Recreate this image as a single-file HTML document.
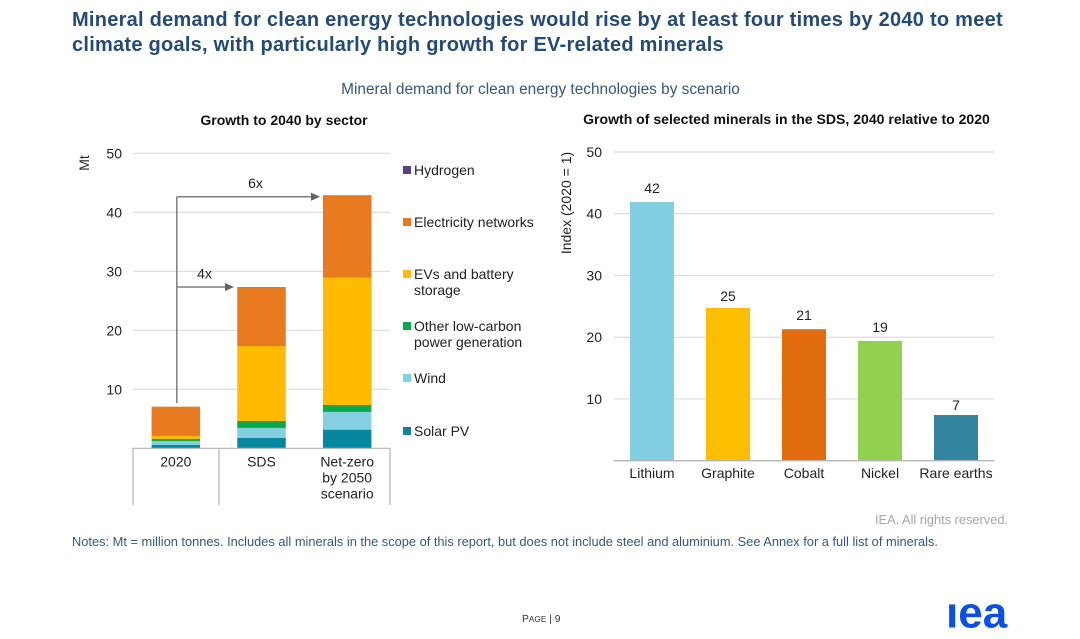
<!DOCTYPE html>
<html lang="en">
<head>
<meta charset="utf-8">
<title>Mineral demand for clean energy technologies</title>
<style>
html,body{margin:0;padding:0;background:#fff;width:1080px;height:639px;overflow:hidden}
svg{display:block;font-family:"Liberation Sans",sans-serif}
</style>
</head>
<body>
<svg id="page" width="1080" height="639" viewBox="0 0 1080 639" xmlns="http://www.w3.org/2000/svg">
  <g font-size="20" font-weight="bold" fill="#234a78" style="letter-spacing:.255px">
    <text x="72" y="26">Mineral demand for clean energy technologies would rise by at least four times by 2040 to meet</text>
    <text x="72" y="51">climate goals, with particularly high growth for EV-related minerals</text>
  </g>
  <text x="540.5" y="94" font-size="15.4" fill="#35587f" text-anchor="middle">Mineral demand for clean energy technologies by scenario</text>
  <text x="284" y="125" font-size="14" font-weight="bold" fill="#111" text-anchor="middle">Growth to 2040 by sector</text>
  <text x="786.5" y="124" font-size="14.05" font-weight="bold" fill="#111" text-anchor="middle">Growth of selected minerals in the SDS, 2040 relative to 2020</text>

  <g id="left-chart"></g>
  <g id="right-chart"></g>

  <text transform="translate(89,163) rotate(-90)" font-size="14" fill="#222" text-anchor="middle">Mt</text>
  <text transform="translate(571,203) rotate(-90)" font-size="14" fill="#222" text-anchor="middle">Index (2020 = 1)</text>

  <g font-size="14" fill="#222">
    <g><rect x="403" y="166" width="8" height="8" fill="#5b3f87"/><text x="414" y="175">Hydrogen</text></g>
    <g><rect x="403" y="218" width="8" height="8" fill="#e97a1f"/><text x="414" y="227">Electricity networks</text></g>
    <g><rect x="403" y="270" width="8" height="8" fill="#fdbb0c"/><text x="414" y="279">EVs and battery</text><text x="414" y="295">storage</text></g>
    <g><rect x="403" y="322" width="8" height="8" fill="#0aa84f"/><text x="414" y="331">Other low-carbon</text><text x="414" y="347">power generation</text></g>
    <g><rect x="403" y="374" width="8" height="8" fill="#84cfe0"/><text x="414" y="383">Wind</text></g>
    <g><rect x="403" y="427" width="8" height="8" fill="#12829b"/><text x="414" y="436">Solar PV</text></g>
  </g>

  <text x="1008" y="524" font-size="12.8" fill="#a6a6a6" text-anchor="end">IEA. All rights reserved.</text>
  <text x="72" y="546" font-size="12.84" fill="#35587f">Notes: Mt = million tonnes. Includes all minerals in the scope of this report, but does not include steel and aluminium. See Annex for a full list of minerals.</text>
  <text x="522" y="622" font-size="10.3" fill="#333">P<tspan font-size="8.3">AGE</tspan> | 9</text>
  <text x="946" y="627.5" font-size="44" font-weight="bold" fill="#0b50e6">ıea</text>
</svg>
<script>
var NS = 'http://www.w3.org/2000/svg';

// Left chart data (Mt)
var scenarios = ['2020', 'SDS', 'Net-zero by 2050 scenario'];
var solarPv = [0.56, 1.75, 3.16];
var wind = [0.68, 1.7, 3.0];
var otherLowCarbon = [0.34, 1.18, 1.18];
var evsBattery = [0.51, 12.71, 21.56];
var electricityNetworks = [4.97, 10.0, 14.0];
var hydrogen = [0, 0, 0];
var leftTicks = [10, 20, 30, 40, 50];
var multiples = ['6x', '4x'];

// Right chart data (index, 2020 = 1)
var minerals = ['Lithium', 'Graphite', 'Cobalt', 'Nickel', 'Rare earths'];
var mineralValues = [41.9, 24.75, 21.3, 19.4, 7.4];
var mineralLabels = ['42', '25', '21', '19', '7'];
var rightTicks = [10, 20, 30, 40, 50];

var sectorSeries = [solarPv, wind, otherLowCarbon, evsBattery, electricityNetworks, hydrogen];
var sectorColors = ['#06869f', '#84cfe0', '#0aa84f', '#febb00', '#e97a1f', '#5b3f87'];
var sectorKeys = ['solar-pv', 'wind', 'other-low-carbon', 'evs-battery', 'electricity-networks', 'hydrogen'];
var mineralColors = ['#82cfe2', '#febe00', '#e26d0e', '#92d050', '#33849f'];

function make(tag, attrs, parent, text) {
  var el = document.createElementNS(NS, tag);
  for (var k in attrs) el.setAttribute(k, attrs[k]);
  if (text !== undefined) el.textContent = text;
  parent.appendChild(el);
  return el;
}

// ---- left chart ----
var left = document.getElementById('left-chart');
var leftX0 = 133, leftX1 = 390, leftBase = 448.3, leftTop = 153.3, leftMax = 50;
function yLeft(v) { return leftBase - v / leftMax * (leftBase - leftTop); }
function xLeftBand(i) { return leftX0 + (leftX1 - leftX0) * (i + 0.5) / scenarios.length; }
var leftBarW = 48.5;

leftTicks.forEach(function (t) {
  var line = make('line', { x1: leftX0, x2: leftX1, y1: yLeft(t), y2: yLeft(t), stroke: '#dcdcdc', 'stroke-width': 1.2 }, left);
  
  
  var lab = make('text', { x: 122, y: yLeft(t) + 5, 'font-size': 14, fill: '#222', 'text-anchor': 'end' }, left, String(t));
  
  
});

scenarios.forEach(function (name, i) {
  var cum = 0;
  sectorSeries.forEach(function (series, s) {
    var v = series[i];
    var r = make('rect', { x: xLeftBand(i) - leftBarW / 2, y: yLeft(cum + v), width: leftBarW, height: yLeft(cum) - yLeft(cum + v), fill: sectorColors[s] }, left);
    
    
    cum += v;
  });
});

function totalAt(i) {
  return sectorSeries.reduce(function (a, s) { return a + s[i]; }, 0);
}

// category axis box
var axisPath = make('path', {
  d: 'M133 505V448.3H390V505M219 448.3V505',
  fill: 'none', stroke: '#b4b4b4', 'stroke-width': 1.2
}, left);



var catLines = [['2020'], ['SDS'], ['Net-zero', 'by 2050', 'scenario']];
scenarios.forEach(function (name, i) {
  var lab = make('text', { 'font-size': 14, fill: '#222', 'text-anchor': 'middle' }, left);
  
  
  catLines[i].forEach(function (ln, j) {
    make('tspan', { x: xLeftBand(i), y: 466.5 + j * 16 }, lab, ln);
  });
});

// growth arrows
var arrowX = 176.8, arrowBottom = 403;
var arrowYHigh = yLeft(totalAt(2)) + 1.5, arrowYLow = yLeft(totalAt(1));
var vArrow = make('line', { x1: arrowX, x2: arrowX, y1: arrowBottom, y2: arrowYHigh, stroke: '#7f7f7f', 'stroke-width': 1.5 }, left);


[[arrowYHigh, 320, 0], [arrowYLow, 234, 1]].forEach(function (a) {
  var h = make('line', { x1: arrowX, x2: a[1] - 6, y1: a[0], y2: a[0], stroke: '#7f7f7f', 'stroke-width': 1.5 }, left);
  
  
  var tip = make('polygon', { points: a[1] + ',' + a[0] + ' ' + (a[1] - 9) + ',' + (a[0] - 4) + ' ' + (a[1] - 9) + ',' + (a[0] + 4), fill: '#636363' }, left);
  
  
  var lab = make('text', { x: a[2] === 0 ? 255.5 : 204.5, y: a[0] - 8.5, 'font-size': 14, fill: '#222', 'text-anchor': 'middle' }, left, multiples[a[2]]);
  
  
});

// ---- right chart ----
var right = document.getElementById('right-chart');
var rightX0 = 614, rightX1 = 994, rightBase = 460.7, rightTop = 152, rightMax = 50;
function yRight(v) { return rightBase - v / rightMax * (rightBase - rightTop); }
function xRightBand(i) { return rightX0 + (rightX1 - rightX0) * (i + 0.5) / minerals.length; }
var rightBarW = 44;
function labelGap(name) {
  if (name === 'Graphite') return 7;
  if (name === 'Rare earths') return 5;
  return 9;
}

rightTicks.forEach(function (t) {
  var line = make('line', { x1: rightX0, x2: rightX1, y1: yRight(t), y2: yRight(t), stroke: '#dcdcdc', 'stroke-width': 1.2 }, right);
  
  
  var lab = make('text', { x: 602, y: yRight(t) + 5, 'font-size': 14, fill: '#222', 'text-anchor': 'end' }, right, String(t));
  
  
});

minerals.forEach(function (name, i) {
  var r = make('rect', { x: xRightBand(i) - rightBarW / 2, y: yRight(mineralValues[i]), width: rightBarW, height: rightBase - yRight(mineralValues[i]), fill: mineralColors[i] }, right);
  
  
  var val = make('text', { x: xRightBand(i), y: yRight(mineralValues[i]) - labelGap(name), 'font-size': 14, fill: '#222', 'text-anchor': 'middle' }, right, mineralLabels[i]);
  
  
  var cat = make('text', { x: xRightBand(i), y: 478, 'font-size': 14, fill: '#222', 'text-anchor': 'middle' }, right, name);
  
  
});

var base = make('line', { x1: rightX0, x2: rightX1, y1: rightBase, y2: rightBase, stroke: '#b4b4b4', 'stroke-width': 1.4 }, right);


</script>
</body>
</html>
